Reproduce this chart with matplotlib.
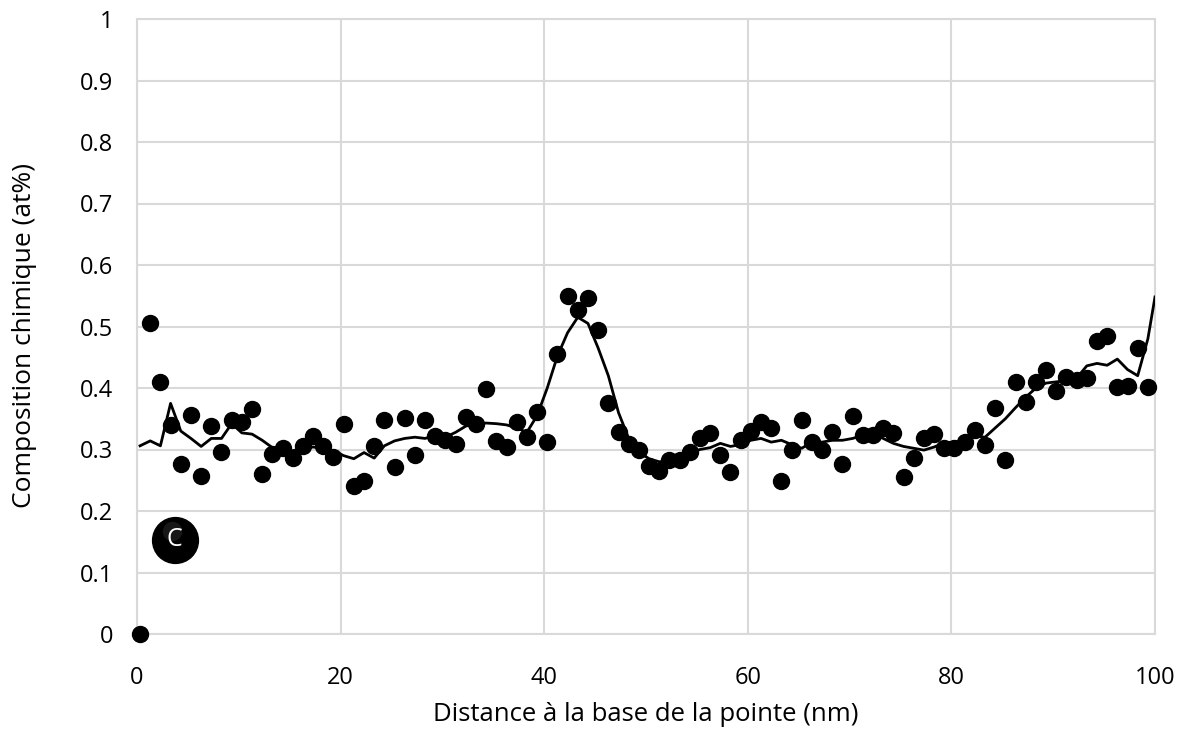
import numpy as np
import matplotlib
matplotlib.use("Agg")
import matplotlib.pyplot as plt

# measured points (at%), one every ~1 nm starting at 0.3 nm
pos_nm = [0.3 + i for i in range(100)]
comp = [
    0.000, 0.505, 0.410, 0.340, 0.277, 0.356, 0.257, 0.338, 0.296, 0.348,
    0.345, 0.366, 0.260, 0.293, 0.302, 0.286, 0.306, 0.322, 0.306, 0.288,
    0.341, 0.241, 0.249, 0.306, 0.348, 0.272, 0.351, 0.291, 0.348, 0.322,
    0.315, 0.309, 0.353, 0.341, 0.398, 0.314, 0.304, 0.345, 0.320, 0.361,
    0.312, 0.455, 0.550, 0.527, 0.546, 0.494, 0.376, 0.328, 0.309, 0.299,
    0.273, 0.265, 0.283, 0.283, 0.296, 0.319, 0.327, 0.291, 0.263, 0.315,
    0.330, 0.345, 0.335, 0.249, 0.299, 0.348, 0.312, 0.299, 0.328, 0.276,
    0.354, 0.324, 0.324, 0.335, 0.327, 0.255, 0.286, 0.319, 0.325, 0.302,
    0.302, 0.312, 0.332, 0.307, 0.367, 0.283, 0.410, 0.377, 0.410, 0.429,
    0.395, 0.418, 0.413, 0.416, 0.476, 0.485, 0.402, 0.403, 0.465, 0.402,
]

# smoothed trend line
trend_x = pos_nm + [100.0]
trend_y = [
    0.306, 0.314, 0.306, 0.375, 0.330, 0.318, 0.305, 0.318, 0.318, 0.342,
    0.327, 0.325, 0.315, 0.303, 0.300, 0.298, 0.302, 0.304, 0.302, 0.298,
    0.290, 0.285, 0.295, 0.286, 0.306, 0.314, 0.318, 0.320, 0.318, 0.323,
    0.320, 0.328, 0.338, 0.342, 0.343, 0.342, 0.340, 0.335, 0.328, 0.355,
    0.400, 0.452, 0.490, 0.515, 0.505, 0.465, 0.420, 0.360, 0.318, 0.296,
    0.285, 0.280, 0.282, 0.288, 0.295, 0.300, 0.303, 0.310, 0.305, 0.308,
    0.315, 0.318, 0.312, 0.315, 0.308, 0.302, 0.312, 0.312, 0.315, 0.315,
    0.318, 0.323, 0.326, 0.318, 0.310, 0.305, 0.302, 0.299, 0.304, 0.311,
    0.312, 0.312, 0.322, 0.320, 0.335, 0.350, 0.368, 0.385, 0.400, 0.408,
    0.410, 0.412, 0.416, 0.436, 0.440, 0.437, 0.447, 0.430, 0.420, 0.480,
    0.548,
]

xticks = [0, 20, 40, 60, 80, 100]
yticks = [0, 0.1, 0.2, 0.3, 0.4, 0.5, 0.6, 0.7, 0.8, 0.9, 1]
ytick_labels = ['0', '0.1', '0.2', '0.3', '0.4', '0.5', '0.6', '0.7', '0.8', '0.9', '1']

plt.rcParams['font.family'] = ['Open Sans', 'DejaVu Sans']

fig = plt.figure(figsize=(11.88, 7.43), dpi=100)
ax = fig.add_axes([137 / 1188, 1 - 634 / 743, (1155 - 137) / 1188, (634 - 19) / 743])

grid_col = '#d9d9d9'
ax.plot(trend_x, trend_y, color='black', lw=2.0, zorder=3, solid_joinstyle='round')
ax.plot(pos_nm, comp, 'o', color='black', ms=11.5, zorder=4, clip_on=False)

ax.set_xlim(0, 100)
ax.set_ylim(0, 1)
ax.set_xticks(xticks)
ax.set_yticks(yticks)
ax.set_yticklabels(ytick_labels)
ax.grid(True, color=grid_col, lw=1.5, zorder=0)
ax.set_axisbelow(True)
for side in ax.spines:
    ax.spines[side].set_color(grid_col)
    ax.spines[side].set_linewidth(1.5)
ax.tick_params(length=0, labelsize=17, colors='black')
ax.tick_params(axis='x', pad=23)
ax.tick_params(axis='y', pad=17)

ax.set_xlabel('Distance à la base de la pointe (nm)', fontsize=18.5, labelpad=9)
ax.set_ylabel('Composition chimique (at%)', fontsize=19, labelpad=20)
ax.yaxis.set_label_coords(-0.098, 0.485)

# "C" badge
ax.plot([3.7], [0.153], 'o', ms=33, color='black', zorder=5)
ax.plot([3.4], [0.168], 'o', ms=14, color='#444444', alpha=0.35, zorder=5, mec='none')
ax.text(3.7, 0.153, 'C', color='white', fontsize=18, ha='center', va='center', zorder=6)

fig.savefig('out.png', dpi=100, facecolor='white')
